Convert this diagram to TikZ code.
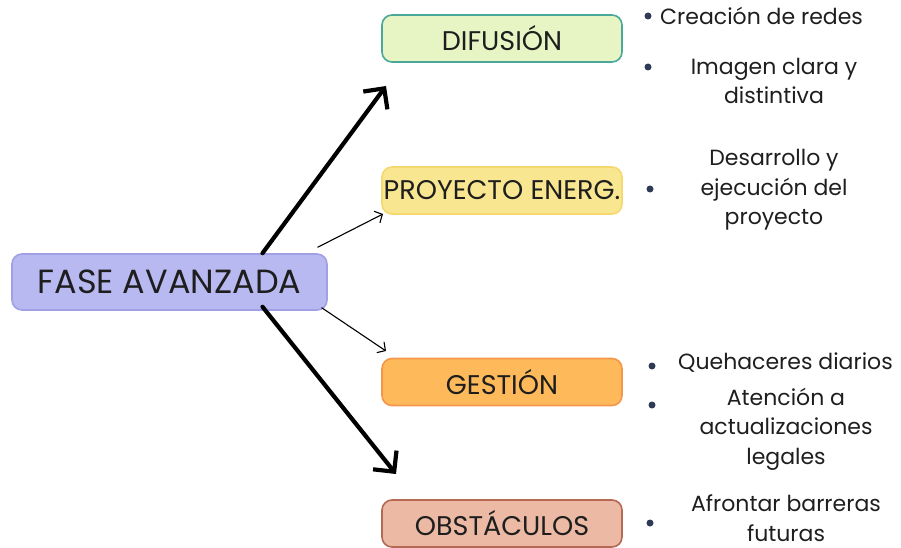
\documentclass[tikz,border=0pt]{standalone}
\usepackage{fontspec}
\setmainfont{Poppins}
\usetikzlibrary{arrows.meta}
\definecolor{ink}{HTML}{1E1E1E}
\definecolor{dotc}{HTML}{2E3A56}
\definecolor{faseFill}{HTML}{B9B9F2}
\definecolor{faseLine}{HTML}{A0A0E6}
\tikzset{
  box/.style={draw, line width=1.6pt, rounded corners=10pt, minimum width=240pt,
    minimum height=47pt, inner sep=0pt, text=ink, font=\fontsize{27}{30}\selectfont},
  big/.style={line width=4.2pt, line cap=round, -{Straight Barb[length=15pt,width=30pt,line width=4.2pt]}},
  thin/.style={line width=1.1pt, line cap=round, -{Straight Barb[length=6pt,width=13pt]}},
  dot/.style={circle, fill=dotc, inner sep=0pt, minimum size=7pt},
  item/.style={align=center, text=ink, font=\fontsize{22}{29.5}\selectfont, inner sep=0pt}
}
\begin{document}
\begin{tikzpicture}[x=1pt,y=-1pt]
\useasboundingbox (0,0) rectangle (901,548);
% central box
\node[box, minimum width=315pt, minimum height=56pt, fill=faseFill, draw=faseLine,
  font=\fontsize{33.5}{36}\selectfont] (fase) at (169.5,282) {FASE AVANZADA};
% branch boxes
\node[box, fill={rgb,255:red,231;green,245;blue,196}, draw={rgb,255:red,74;green,168;blue,154}] (dif) at (502,38.5) {DIFUSIÓN};
\node[box, fill={rgb,255:red,248;green,230;blue,145}, draw={rgb,255:red,245;green,216;blue,110}] (pro) at (502,190.5) {PROYECTO ENERG.};
\node[box, fill={rgb,255:red,253;green,185;blue,90}, draw={rgb,255:red,245;green,150;blue,75}] (ges) at (502,382) {GESTIÓN};
\node[box, fill={rgb,255:red,235;green,185;blue,164}, draw={rgb,255:red,180;green,105;blue,85}] (obs) at (502,523.5) {OBSTÁCULOS};
% arrow ends
\coordinate (e1) at (386,86);
\coordinate (e2) at (383,214);
\coordinate (e3) at (386,351);
\coordinate (e4) at (396,474);
\draw[big] ([xshift=93pt]fase.north) -- (e1);
\draw[thin] ([xshift=-10pt,yshift=6pt]fase.north east) -- (e2);
\draw[thin] ([xshift=-6pt,yshift=3pt]fase.south east) -- (e3);
\draw[big] ([xshift=93pt,yshift=4pt]fase.south) -- (e4);
% bullet items
\node[dot] (d1) at (648,16) {};
\node[item, anchor=west] (t1) at (660,16) {Creación de redes};
\node[dot] (d2) at (648,67) {};
\node[item] (t2) at (774,81) {Imagen clara y\\distintiva};
\node[dot] (d3) at (650,189) {};
\node[item] (t3) at (774,190) {Desarrollo y\\ejecución del\\proyecto};
\node[dot] (d4) at (652,366) {};
\node[item, anchor=west] (t4) at (678,363) {Quehaceres diarios};
\node[dot] (d5) at (652,405) {};
\node[item] (t5) at (786,429) {Atención a\\actualizaciones\\legales};
\node[dot] (d6) at (650,523) {};
\node[item] (t6) at (786,518) {Afrontar barreras\\futuras};
\end{tikzpicture}
\end{document}
